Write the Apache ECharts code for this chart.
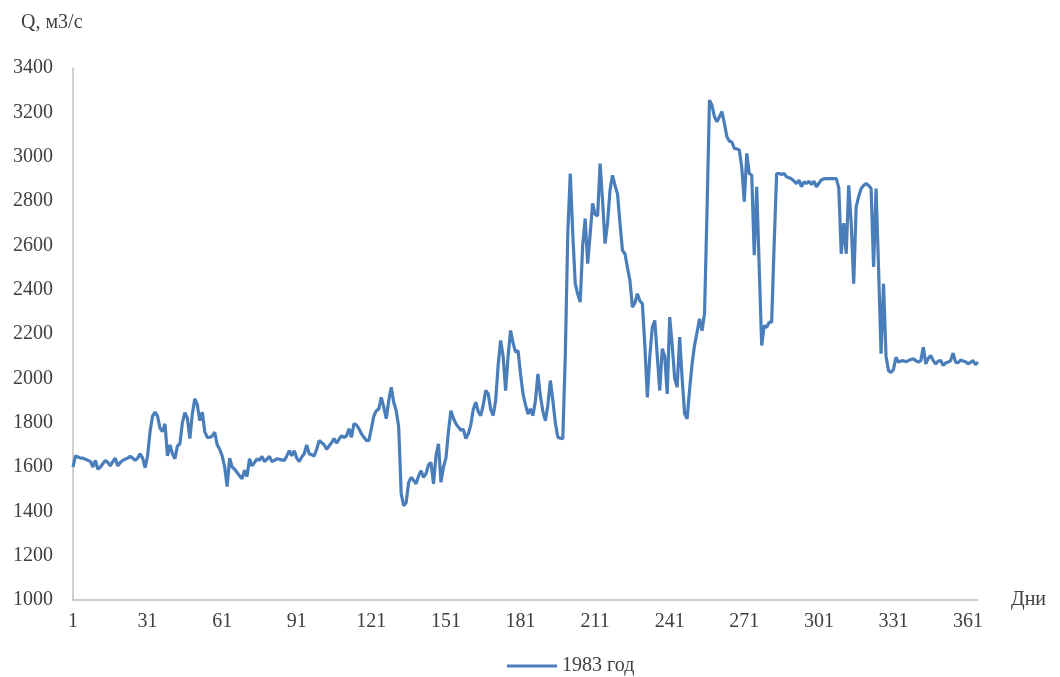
<!DOCTYPE html>
<html>
<head>
<meta charset="utf-8">
<script src="https://cdn.jsdelivr.net/npm/echarts@6/dist/echarts.min.js"></script>
<style>html,body{margin:0;padding:0;background:#fff;}#c{width:1060px;height:677px;}</style>
</head>
<body>
<div id="c"></div>
<script>
const seriesName = "1983 год";
const yTitle = "Q, м3/с";
const xTitle = "Дни";
const yMin = 1000, yMax = 3400, yStep = 200;
const days = [];
for (let d = 1; d <= 365; d++) days.push(String(d));
const q1983 = [
1600,1650,1645,1640,1640,1635,1630,1625,1600,1630,
1590,1600,1615,1630,1620,1605,1625,1640,1605,1620,
1630,1635,1640,1648,1640,1630,1640,1660,1640,1597,
1650,1760,1830,1847,1830,1775,1760,1795,1650,1700,
1660,1637,1695,1705,1800,1845,1820,1728,1840,1908,
1880,1809,1847,1760,1734,1734,1740,1757,1700,1680,
1650,1600,1512,1640,1600,1590,1575,1560,1547,1585,
1557,1637,1605,1620,1637,1630,1648,1625,1635,1648,
1625,1630,1637,1635,1632,1630,1650,1673,1650,1673,
1640,1625,1645,1660,1700,1660,1655,1650,1680,1719,
1710,1700,1680,1695,1710,1728,1708,1725,1741,1734,
1740,1773,1734,1795,1790,1773,1750,1734,1720,1719,
1773,1830,1854,1862,1914,1870,1818,1900,1960,1892,
1854,1780,1480,1425,1440,1530,1553,1540,1524,1560,
1583,1553,1570,1610,1620,1524,1650,1704,1531,1600,
1640,1760,1854,1820,1795,1780,1766,1770,1728,1750,
1790,1860,1892,1850,1832,1880,1945,1930,1860,1832,
1900,2060,2171,2100,1945,2100,2216,2160,2118,2125,
2020,1930,1880,1839,1862,1832,1900,2020,1920,1850,
1809,1880,1990,1900,1800,1734,1730,1728,2100,2650,
2924,2654,2428,2380,2344,2600,2721,2517,2650,2789,
2740,2733,2969,2800,2608,2700,2850,2916,2870,2833,
2700,2577,2562,2500,2442,2321,2340,2382,2350,2336,
2150,1914,2100,2230,2261,2100,1945,2133,2100,1930,
2276,2150,2000,1960,2186,2000,1840,1817,1950,2065,
2150,2208,2269,2215,2291,2750,3255,3232,3180,3157,
3180,3203,3150,3090,3070,3066,3037,3035,3030,2950,
2797,3015,2924,2916,2555,2864,2500,2148,2238,2230,
2253,2253,2600,2924,2924,2920,2924,2909,2905,2900,
2890,2879,2894,2864,2886,2879,2889,2875,2889,2864,
2880,2895,2900,2901,2901,2901,2901,2901,2860,2562,
2700,2562,2871,2700,2427,2773,2820,2856,2870,2879,
2870,2856,2502,2856,2500,2111,2427,2100,2035,2027,
2040,2095,2073,2078,2080,2075,2080,2085,2088,2080,
2073,2080,2140,2065,2090,2103,2080,2065,2078,2080,
2058,2070,2073,2080,2114,2073,2070,2083,2078,2075,
2065,2072,2080,2062,2073
];
const font = "'Liberation Serif','Times New Roman',serif";
const chart = echarts.init(document.getElementById('c'));
chart.setOption({
  animation: false,
  backgroundColor: '#fff',
  textStyle: { fontFamily: font },
  title: { text: yTitle, left: 16, top: 8, textStyle: { fontFamily: font, fontSize: 20, fontWeight: 'normal', color: '#404040' } },
  legend: {
    data: [{ name: seriesName, icon: 'rect' }], left: 502, top: 651, itemWidth: 50, itemHeight: 3, itemGap: 4,
    textStyle: { fontFamily: font, fontSize: 20, color: '#404040' }
  },
  grid: { left: 73, right: 82, top: 68, bottom: 77, containLabel: false },
  xAxis: {
    type: 'category', data: days, boundaryGap: false,
    name: xTitle, nameLocation: 'end', nameGap: 33,
    nameTextStyle: { fontFamily: font, fontSize: 20, color: '#404040', verticalAlign: 'middle', padding: [0,0,12,0] },
    axisLine: { lineStyle: { color: '#bfbfbf', width: 1.5 } },
    axisTick: { show: false },
    axisLabel: { interval: 29, fontFamily: font, fontSize: 20, color: '#404040', margin: 12 },
    splitLine: { show: false }
  },
  yAxis: {
    type: 'value', min: yMin, max: yMax, interval: yStep,
    axisLine: { show: true, lineStyle: { color: '#bfbfbf', width: 1.5 } },
    axisTick: { show: false },
    axisLabel: { fontFamily: font, fontSize: 20, color: '#404040', margin: 20, formatter: v => String(v) },
    splitLine: { show: false }
  },
  series: [{
    name: seriesName, type: 'line', data: q1983, symbol: 'none', smooth: false,
    lineStyle: { color: '#4a7ebb', width: 3.2 }, itemStyle: { color: '#4a7ebb' }
  }]
});
</script>
</body>
</html>
